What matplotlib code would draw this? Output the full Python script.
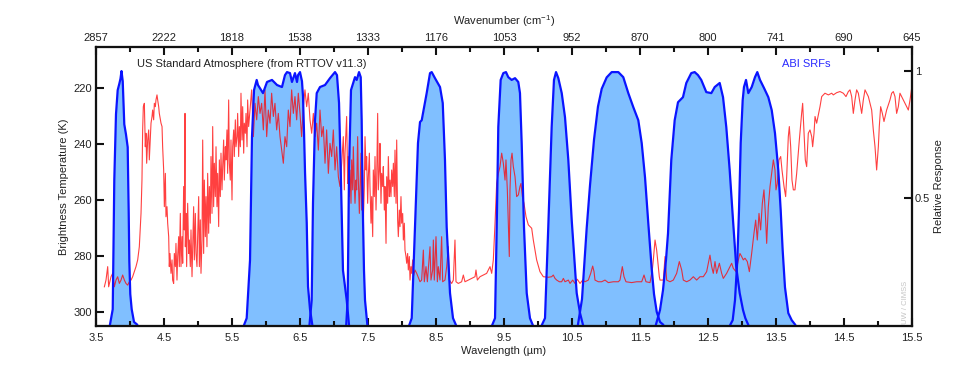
import numpy as np
import matplotlib
matplotlib.use('Agg')
import matplotlib.pyplot as plt

plt.rcParams['font.family'] = ['Liberation Sans', 'DejaVu Sans']
plt.rcParams['font.size'] = 8

# ------------------------------
# DATA
# ------------------------------

# brightness temperature spectrum, US standard atmosphere (um, K)
bt_wl_a = [3.623, 3.647, 3.672, 3.686, 3.721, 3.745, 3.770, 3.794, 3.819, 3.843,
           3.868, 3.892, 3.917, 3.941, 3.966, 3.990, 4.015, 4.039, 4.088, 4.113,
           4.137, 4.162, 4.176, 4.186, 4.196, 4.211, 4.225, 4.235, 4.245, 4.260,
           4.275, 4.284, 4.299, 4.309, 4.324, 4.333, 4.348, 4.358, 4.373, 4.382,
           4.397, 4.407, 4.422, 4.431, 4.456, 4.471, 4.480, 4.495, 4.505, 4.520,
           4.529, 4.544, 4.554, 4.569, 4.578, 4.588, 4.603, 4.618, 4.627, 4.642,
           4.652, 4.667, 4.676, 4.691, 4.701, 4.716, 4.725, 4.740, 4.750, 4.765,
           4.775, 4.789, 4.799, 4.809, 4.814, 4.824, 4.833, 4.848, 4.863, 4.873,
           4.887, 4.897, 4.912, 4.922, 4.936, 4.946, 4.961, 4.971, 4.985, 4.995,
           5.010, 5.020, 5.034, 5.044, 5.059, 5.069, 5.083, 5.093, 5.108, 5.118,
           5.132, 5.142, 5.157, 5.167, 5.181, 5.191, 5.206, 5.216, 5.230, 5.240,
           5.255, 5.265, 5.279, 5.289, 5.304, 5.314, 5.328, 5.338, 5.353, 5.363,
           5.377, 5.387, 5.402, 5.412, 5.426, 5.436, 5.451, 5.461, 5.475, 5.485,
           5.500, 5.510, 5.525, 5.534, 5.549, 5.559, 5.574, 5.583, 5.598, 5.608,
           5.623, 5.632, 5.647, 5.657, 5.672, 5.681, 5.696, 5.706, 5.721, 5.730,
           5.745]
bt_k_a = [291.1, 288.7, 283.9, 291.1, 287.5, 286.3, 291.1, 288.7, 287.5, 289.9,
          288.7, 286.9, 288.7, 289.9, 290.5, 289.3, 288.7, 287.5, 283.9, 281.5,
          276.8, 264.9, 253.0, 235.1, 226.8, 225.6, 241.1, 236.3, 247.0, 238.7,
          235.1, 245.8, 237.5, 232.7, 230.3, 228.0, 231.5, 225.6, 226.8, 224.4,
          222.6, 224.4, 226.8, 229.2, 232.7, 233.9, 241.1, 249.4, 262.5, 250.6,
          266.1, 262.5, 268.4, 273.2, 283.9, 279.2, 286.3, 281.5, 288.7, 289.9,
          279.2, 283.9, 275.6, 288.7, 280.3, 273.2, 283.9, 264.9, 283.9, 273.2,
          282.7, 255.3, 270.8, 229.2, 276.8, 264.9, 283.9, 261.3, 279.2, 274.4,
          283.9, 270.8, 287.5, 276.8, 262.5, 281.5, 264.9, 279.2, 283.9, 273.2,
          258.9, 283.9, 267.2, 286.3, 274.4, 238.7, 279.2, 253.0, 273.2, 258.9,
          276.8, 250.6, 272.0, 255.3, 268.4, 244.6, 264.9, 233.9, 262.5, 247.0,
          258.9, 241.1, 262.5, 250.6, 269.6, 245.8, 258.9, 243.4, 256.5, 248.2,
          238.7, 253.0, 241.1, 245.8, 235.1, 250.6, 224.4, 247.0, 253.0, 238.7,
          260.1, 241.1, 235.1, 244.6, 231.5, 241.1, 237.5, 229.2, 244.6, 233.9,
          241.1, 222.0, 238.7, 226.8, 243.4, 232.7, 236.3, 229.2, 241.1, 224.4,
          233.9]

bt_wl_b = [5.765, 5.789, 5.814, 5.838, 5.863, 5.887, 5.912, 5.936, 5.961, 5.985,
           6.010, 6.034, 6.059, 6.083, 6.108, 6.132, 6.157, 6.181, 6.206, 6.230,
           6.255, 6.279, 6.304, 6.328, 6.353, 6.377, 6.402, 6.426, 6.451, 6.475,
           6.500, 6.524, 6.549, 6.573, 6.598, 6.622, 6.647, 6.672, 6.696, 6.721,
           6.745, 6.770, 6.794, 6.819, 6.843, 6.868, 6.892, 6.917, 6.941, 6.966,
           6.990, 7.015, 7.039, 7.064, 7.088, 7.113, 7.137, 7.152, 7.162, 7.186,
           7.201, 7.211, 7.225, 7.235, 7.250, 7.260, 7.275, 7.284, 7.299, 7.309,
           7.324, 7.333, 7.348, 7.358, 7.373, 7.382, 7.397, 7.407, 7.422, 7.431,
           7.446, 7.456, 7.471, 7.480, 7.495, 7.505, 7.520, 7.529, 7.544, 7.554,
           7.569, 7.578, 7.593, 7.603, 7.618, 7.627, 7.642, 7.652, 7.667, 7.676,
           7.691, 7.701, 7.716, 7.725, 7.740, 7.750, 7.765, 7.775, 7.789, 7.799,
           7.814, 7.824, 7.838, 7.848, 7.863, 7.873, 7.887, 7.897, 7.912, 7.922,
           7.936, 7.946, 7.961, 7.971, 7.985, 7.995, 8.010, 8.020, 8.034, 8.044,
           8.059, 8.069, 8.083, 8.093, 8.108, 8.118, 8.132, 8.142, 8.157, 8.167,
           8.191, 8.216]
bt_k_b = [228.0, 220.8, 237.5, 225.6, 231.5, 223.2, 229.2, 225.6, 235.1, 220.8,
          237.5, 228.0, 232.7, 222.0, 230.3, 225.6, 235.1, 229.2, 237.5, 242.3,
          247.0, 237.5, 241.1, 228.0, 233.9, 220.8, 229.2, 223.2, 231.5, 222.0,
          229.2, 237.5, 226.8, 220.8, 226.8, 222.0, 231.5, 236.3, 229.2, 237.5,
          232.7, 242.3, 228.0, 237.5, 233.9, 247.0, 235.1, 250.6, 239.9, 244.6,
          235.1, 249.4, 241.1, 251.8, 255.3, 247.0, 237.5, 256.5, 243.4, 230.3,
          254.2, 244.6, 258.9, 249.4, 261.3, 245.8, 256.5, 241.1, 255.3, 261.3,
          253.0, 256.5, 237.5, 253.0, 264.9, 256.5, 243.4, 263.7, 249.4, 268.4,
          255.3, 237.5, 249.4, 244.6, 261.3, 251.8, 243.4, 255.3, 268.4, 258.9,
          273.2, 249.4, 258.9, 244.6, 263.7, 254.2, 229.2, 256.5, 249.4, 239.9,
          261.3, 250.6, 255.3, 248.2, 263.7, 255.3, 275.6, 251.8, 261.3, 244.6,
          258.9, 253.0, 258.9, 249.4, 255.3, 247.0, 258.9, 242.3, 261.3, 238.7,
          267.3, 273.2, 263.7, 269.6, 258.9, 268.4, 264.9, 274.4, 268.4, 278.0,
          280.3, 282.7, 279.2, 285.1, 280.3, 288.7, 283.9, 286.3, 281.5, 287.5,
          285.1, 286.3]

bt_wl_c = [8.265, 8.289, 8.314, 8.328, 8.353, 8.373, 8.412, 8.426, 8.451, 8.461,
           8.475, 8.500, 8.520, 8.534, 8.559, 8.583, 8.598, 8.632, 8.657, 8.681,
           8.696, 8.730, 8.755, 8.779, 8.794, 8.828, 8.877, 8.902, 8.926, 8.975,
           9.025, 9.074, 9.088, 9.108, 9.147, 9.196, 9.245, 9.294, 9.319, 9.343,
           9.368, 9.392, 9.417, 9.441, 9.466, 9.490, 9.515, 9.529, 9.549, 9.564,
           9.578, 9.588, 9.603, 9.618, 9.637, 9.662, 9.686, 9.711, 9.735, 9.750,
           9.770, 9.794, 9.824, 9.858, 9.907, 9.931, 9.956, 9.980, 10.029, 10.078,
           10.152, 10.201, 10.225, 10.250, 10.275, 10.314, 10.348, 10.373, 10.397, 10.446,
           10.471, 10.510, 10.544, 10.578, 10.618, 10.657, 10.691, 10.740, 10.775, 10.804,
           10.824, 10.838, 10.887, 10.936, 10.985, 11.034, 11.108, 11.181, 11.206, 11.240,
           11.265, 11.294, 11.377, 11.451, 11.525, 11.559, 11.588, 11.647, 11.681, 11.696,
           11.721, 11.745, 11.770, 11.784]
bt_k_c = [289.3, 288.7, 278.0, 289.3, 283.9, 289.3, 276.8, 288.7, 285.1, 274.4,
          288.7, 273.2, 289.3, 283.9, 288.7, 273.2, 289.3, 288.7, 283.9, 276.8,
          288.7, 289.9, 288.7, 274.4, 289.3, 289.9, 289.3, 286.9, 289.3, 288.7,
          288.1, 287.5, 285.1, 288.7, 287.5, 286.9, 286.3, 283.9, 286.3, 281.5,
          268.4, 254.2, 250.6, 248.2, 243.4, 247.0, 253.0, 245.8, 256.5, 268.4,
          280.3, 256.5, 245.8, 243.4, 248.2, 251.8, 258.9, 258.3, 255.3, 254.2,
          258.9, 261.3, 266.1, 269.0, 270.2, 274.4, 278.0, 281.5, 285.7, 287.5,
          287.7, 287.5, 286.9, 288.1, 288.7, 289.3, 289.3, 288.1, 289.3, 288.7,
          289.9, 288.7, 289.9, 288.4, 289.9, 288.7, 289.3, 288.7, 286.3, 283.7,
          285.7, 288.7, 289.3, 289.3, 288.7, 289.6, 289.3, 289.3, 288.7, 283.9,
          287.5, 289.3, 289.6, 289.3, 289.3, 286.9, 289.3, 289.6, 285.1, 281.5,
          274.4, 278.0, 283.9, 287.5]

bt_wl_d = [11.794, 11.843, 11.868, 11.892, 11.941, 11.990, 12.039, 12.078, 12.113, 12.137,
           12.186, 12.235, 12.284, 12.333, 12.382, 12.431, 12.480, 12.529, 12.554, 12.578,
           12.603, 12.627, 12.667, 12.701, 12.725, 12.774, 12.823, 12.848, 12.872, 12.912,
           12.946, 12.970, 12.995, 13.019, 13.044, 13.078, 13.108, 13.142, 13.176, 13.201,
           13.225, 13.250, 13.274, 13.299, 13.323, 13.343, 13.363, 13.387, 13.412, 13.436,
           13.461, 13.485, 13.500, 13.519, 13.544, 13.569, 13.588, 13.618, 13.642, 13.657,
           13.681, 13.696, 13.716, 13.735, 13.755, 13.779, 13.804, 13.843, 13.877, 13.892,
           13.912, 13.931, 13.951, 13.975, 14.000, 14.025, 14.039, 14.059, 14.074, 14.098,
           14.147, 14.172, 14.220, 14.270, 14.319, 14.343, 14.392, 14.441, 14.490, 14.529,
           14.564, 14.588, 14.613, 14.637, 14.662, 14.686, 14.711, 14.735, 14.760, 14.784,
           14.809, 14.833, 14.858, 14.882, 14.907, 14.931, 14.956, 14.980, 15.005, 15.019,
           15.039, 15.064, 15.088, 15.127, 15.176, 15.201, 15.225, 15.250, 15.274, 15.299,
           15.323, 15.348, 15.372, 15.397, 15.421, 15.446, 15.471, 15.495]
bt_k_d = [288.7, 288.7, 280.3, 288.7, 289.3, 288.7, 286.3, 282.1, 285.1, 288.7,
          289.3, 288.7, 287.5, 288.7, 287.5, 287.5, 285.7, 279.8, 283.9, 286.3,
          282.1, 286.3, 282.7, 286.3, 288.1, 286.3, 283.9, 282.7, 284.5, 285.7,
          281.5, 279.2, 280.3, 281.5, 280.9, 282.1, 285.7, 279.2, 272.0, 267.3,
          274.4, 264.9, 270.8, 261.3, 256.5, 264.9, 275.6, 262.5, 255.3, 250.6,
          245.8, 249.4, 256.5, 254.2, 245.8, 244.6, 249.4, 255.3, 258.9, 251.8,
          237.5, 233.9, 241.1, 253.0, 256.5, 256.5, 250.6, 238.7, 229.2, 225.6,
          236.3, 245.8, 248.2, 236.3, 235.1, 237.5, 241.1, 236.3, 230.3, 232.7,
          226.8, 223.2, 222.0, 222.6, 222.0, 222.6, 221.8, 221.4, 222.0, 223.2,
          221.4, 220.8, 223.2, 229.2, 224.4, 220.8, 222.0, 225.6, 229.2, 224.4,
          220.8, 222.0, 223.2, 225.6, 228.0, 235.1, 241.1, 249.4, 241.1, 233.9,
          226.8, 229.2, 232.1, 228.0, 224.4, 222.0, 221.4, 223.2, 229.2, 226.8,
          222.0, 223.2, 224.4, 225.6, 226.8, 228.0, 224.4, 220.2]

# ABI spectral response functions, bands 7-16 (um, relative response)
band07_wl = [3.706, 3.746, 3.757, 3.769, 3.794, 3.819, 3.843, 3.860, 3.875, 3.893,
             3.916, 3.941, 3.966, 3.981, 3.990, 4.004, 4.025, 4.059, 4.103]
band07_r = [0.0, 0.06, 0.30, 0.57, 0.83, 0.925, 0.95, 0.97, 1.0, 0.96,
            0.79, 0.75, 0.70, 0.44, 0.25, 0.12, 0.06, 0.01, 0.0]

band08_wl = [5.68, 5.716, 5.765, 5.794, 5.824, 5.863, 5.882, 5.956, 6.015, 6.088,
             6.162, 6.235, 6.279, 6.309, 6.353, 6.382, 6.426, 6.456, 6.471, 6.500,
             6.529, 6.544, 6.560, 6.574, 6.599, 6.618, 6.647, 6.68]
band08_r = [0.0, 0.025, 0.254, 0.74, 0.925, 0.965, 0.945, 0.913, 0.957, 0.965,
            0.945, 0.937, 0.984, 0.996, 0.992, 0.957, 0.992, 0.957, 0.984, 0.996,
            0.96, 0.90, 0.75, 0.60, 0.40, 0.15, 0.06, 0.0]

band09_wl = [6.64, 6.672, 6.691, 6.721, 6.746, 6.794, 6.868, 6.941, 7.015, 7.044,
             7.074, 7.099, 7.132, 7.187, 7.22]
band09_r = [0.0, 0.096, 0.479, 0.806, 0.913, 0.937, 0.945, 0.972, 0.996, 0.984,
            0.874, 0.609, 0.214, 0.096, 0.0]

band10_wl = [7.18, 7.201, 7.221, 7.250, 7.309, 7.334, 7.368, 7.393, 7.407, 7.422,
             7.441, 7.456, 7.49]
band10_r = [0.0, 0.096, 0.609, 0.925, 0.976, 0.965, 0.996, 0.976, 0.806, 0.479,
            0.214, 0.096, 0.0]

band11_wl = [8.11, 8.143, 8.191, 8.235, 8.265, 8.290, 8.309, 8.363, 8.412, 8.437,
             8.485, 8.559, 8.599, 8.632, 8.657, 8.706, 8.750, 8.79]
band11_r = [0.0, 0.025, 0.384, 0.716, 0.799, 0.806, 0.834, 0.913, 0.992, 0.996,
            0.972, 0.937, 0.874, 0.649, 0.384, 0.124, 0.025, 0.0]

band12_wl = [9.33, 9.368, 9.393, 9.416, 9.451, 9.490, 9.529, 9.563, 9.613, 9.662,
             9.710, 9.735, 9.760, 9.794, 9.834, 9.882, 9.92]
band12_r = [0.0, 0.025, 0.384, 0.779, 0.965, 0.992, 0.996, 0.976, 0.965, 0.972,
            0.957, 0.913, 0.716, 0.384, 0.124, 0.025, 0.0]

band13_wl = [10.06, 10.103, 10.151, 10.201, 10.235, 10.265, 10.299, 10.349, 10.397, 10.446,
             10.496, 10.569, 10.618, 10.66]
band13_r = [0.0, 0.025, 0.384, 0.779, 0.965, 0.996, 0.972, 0.913, 0.818, 0.649,
            0.411, 0.124, 0.045, 0.0]

band14_wl = [10.588, 10.647, 10.716, 10.765, 10.824, 10.882, 10.937, 11.010, 11.084, 11.181,
             11.254, 11.328, 11.401, 11.475, 11.525, 11.574, 11.622, 11.672, 11.706, 11.746,
             11.794, 11.838]
band14_r = [0.0, 0.10, 0.38, 0.55, 0.73, 0.86, 0.93, 0.975, 0.996, 0.996,
            0.976, 0.913, 0.858, 0.806, 0.716, 0.58, 0.40, 0.22, 0.12, 0.05,
            0.01, 0.0]

band15_wl = [11.735, 11.794, 11.838, 11.882, 11.912, 11.960, 12.010, 12.059, 12.132, 12.181,
             12.254, 12.304, 12.353, 12.401, 12.475, 12.549, 12.599, 12.672, 12.721, 12.769,
             12.819, 12.868, 12.916, 12.966, 13.015, 13.049, 13.09]
band15_r = [0.0, 0.057, 0.135, 0.254, 0.36, 0.649, 0.806, 0.877, 0.897, 0.953,
            0.992, 0.996, 0.984, 0.965, 0.917, 0.913, 0.937, 0.953, 0.897, 0.779,
            0.609, 0.411, 0.225, 0.124, 0.057, 0.025, 0.0]

band16_wl = [12.83, 12.863, 12.897, 12.931, 12.956, 12.981, 13.010, 13.029, 13.059, 13.093,
             13.143, 13.191, 13.225, 13.265, 13.324, 13.387, 13.437, 13.485, 13.534, 13.569,
             13.598, 13.632, 13.681, 13.731, 13.78]
band16_r = [0.0, 0.017, 0.096, 0.254, 0.451, 0.716, 0.885, 0.937, 0.965, 0.913,
            0.937, 0.976, 0.996, 0.965, 0.933, 0.897, 0.846, 0.755, 0.609, 0.451,
            0.293, 0.147, 0.045, 0.017, 0.0]

# tick labels
wavelength_ticks = [3.5, 4.5, 5.5, 6.5, 7.5, 8.5, 9.5, 10.5, 11.5, 12.5, 13.5, 14.5, 15.5]
wavenumber_labels = ['2857', '2222', '1818', '1538', '1333', '1176', '1053',
                     '952', '870', '800', '741', '690', '645']
bt_ticks = [220, 240, 260, 280, 300]

bands = [(band07_wl, band07_r), (band08_wl, band08_r), (band09_wl, band09_r),
         (band10_wl, band10_r), (band11_wl, band11_r), (band12_wl, band12_r),
         (band13_wl, band13_r), (band14_wl, band14_r), (band15_wl, band15_r),
         (band16_wl, band16_r)]

bt_wl = np.concatenate([bt_wl_a, bt_wl_b, bt_wl_c, bt_wl_d])
bt_k = np.concatenate([bt_k_a, bt_k_b, bt_k_c, bt_k_d])

# ------------------------------
# PLOT
# ------------------------------
text_col = '#222222'
fill_col = '#80bfff'
edge_col = '#0a14ff'

fig = plt.figure(figsize=(9.6, 3.84), dpi=100)
ax = fig.add_axes([0.1, 0.151, 0.85, 0.7266])   # SRFs, right-hand scale
ax_bt = ax.twinx()                               # brightness temperature, left-hand scale

for wl, r in bands:
    ax.fill_between(wl, 0, r, color=fill_col, lw=0, zorder=1)

ax_bt.plot(bt_wl, bt_k, color='red', lw=0.8, alpha=0.75, zorder=2)

# SRF outlines drawn above the red spectrum
for wl, r in bands:
    ax_bt.plot(wl, r, color=edge_col, lw=1.6, zorder=3, transform=ax.transData)

# right axis (relative response)
ax.set_xlim(3.5, 15.5)
ax.set_ylim(-0.006, 1.095)
ax.yaxis.tick_right()
ax.yaxis.set_label_position('right')
ax.set_yticks([0.5, 1])
ax.set_yticklabels(['0.5', '1'])
ax.set_ylabel('Relative Response', color=text_col, labelpad=3)

# left axis (brightness temperature)
ax_bt.set_xlim(3.5, 15.5)
ax_bt.set_ylim(305.1, 205.5)
ax_bt.yaxis.tick_left()
ax_bt.yaxis.set_label_position('left')
ax_bt.set_yticks(bt_ticks)
ax_bt.set_ylabel('Brightness Temperature (K)', color=text_col, labelpad=3)

# bottom axis (wavelength)
ax.set_xticks(wavelength_ticks)
ax.set_xticklabels([f'{t:.1f}' for t in wavelength_ticks])
ax.set_xticks(np.arange(4.0, 15.5, 1.0), minor=True)
ax.set_xlabel('Wavelength (\u00b5m)', color=text_col, labelpad=2)

# top axis (wavenumber)
ax_top = ax.twiny()
ax_top.set_xlim(3.5, 15.5)
ax_top.set_xticks(wavelength_ticks)
ax_top.set_xticklabels(wavenumber_labels)
ax_top.set_xticks(np.arange(4.0, 15.5, 1.0), minor=True)
ax_top.set_xlabel('Wavenumber (cm$^{\\mathregular{-1}}$)', color=text_col, labelpad=6)

for a in (ax, ax_bt, ax_top):
    for s in a.spines.values():
        s.set_linewidth(1.5)
        s.set_color('#111111')
    a.tick_params(which='major', direction='in', length=6, width=1.5,
                  colors='#111111', labelcolor=text_col, labelsize=8)
    a.tick_params(which='minor', direction='in', length=3.5, width=1.5, colors='#111111')

ax.tick_params(axis='x', pad=5)
ax.tick_params(axis='y', pad=2)
ax_bt.tick_params(axis='y', pad=3)
ax_top.tick_params(axis='x', pad=3)

ax.text(0.05, 0.939, 'US Standard Atmosphere (from RTTOV v11.3)', transform=ax.transAxes,
        ha='left', va='center', fontsize=8, color=text_col, zorder=5)
ax.text(0.8407, 0.939, 'ABI SRFs', transform=ax.transAxes,
        ha='left', va='center', fontsize=8, color='#2a2aff', zorder=5)
ax.text(0.992, 0.006, 'UW / CIMSS', transform=ax.transAxes, rotation=90,
        ha='center', va='bottom', fontsize=5.5, color='#c4c4c4', zorder=5)

fig.savefig('out.png', dpi=100)
